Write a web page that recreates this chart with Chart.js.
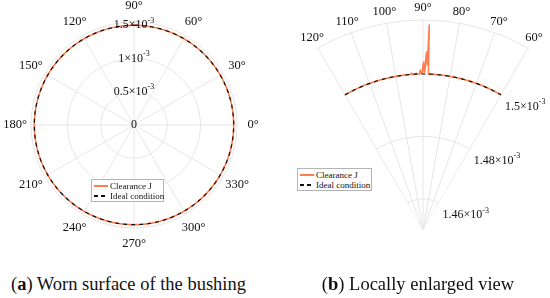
<!DOCTYPE html>
<html><head><meta charset="utf-8">
<script src="https://cdn.jsdelivr.net/npm/chart.js@4.4.0/dist/chart.umd.min.js"></script>
<style>
html,body{margin:0;padding:0;width:550px;height:298px;overflow:hidden;background:#fff;font-family:'Liberation Serif','DejaVu Serif','Noto Serif',serif;color:#111;}
#left{position:absolute;left:0;top:0;}
#rightWrap{position:absolute;left:275px;top:0;width:275px;height:298px;overflow:hidden;}
#right{position:absolute;left:-72px;top:0;}
.legend{position:absolute;background:#fff;border:1px solid #b4b4b4;font-size:9px;line-height:10px;box-sizing:border-box;padding:1px 2px;}
.legend .row{display:flex;align-items:center;height:10px;white-space:nowrap;}
.legend .sw{width:14px;height:1.5px;margin-right:2px;flex:none;}
.caption{position:absolute;top:275px;font-size:18.5px;line-height:18px;white-space:nowrap;text-align:center;color:#111;}
</style></head>
<body>
<canvas id="left" width="275" height="260"></canvas>
<div id="rightWrap"><canvas id="right" width="440" height="460"></canvas></div>
<div class="legend" id="legL" style="left:91px;top:179px;width:73px;height:23px;"></div>
<div class="legend" id="legR" style="left:297px;top:168px;width:75px;height:23px;"></div>
<div class="caption" style="left:0;width:257px;">(<b>a</b>) Worn surface of the bushing</div>
<div class="caption" style="left:318px;width:200px;">(<b>b</b>) Locally enlarged view</div>
<script>
// ---------------- data ----------------
const ANGLE_STEP = 0.25;                 // degrees between samples
const IDEAL_RADIUS = 1.5e-3;             // ideal clearance circle
const seriesNames = ['Clearance J', 'Ideal condition'];
// clearance J deviations (angle in degrees, value) read from the enlarged view
const spikeAngles = [94.25, 93.5, 92.5, 91.25, 91.0, 90.75, 90.5, 90.25, 90.0, 89.75, 89.5, 89.25, 89.0, 88.75, 88.5, 88.25];
const spikeValues = [1.5004e-3, 1.5002e-3, 1.5003e-3, 1.5001e-3, 1.5013e-3, 1.5003e-3, 1.5003e-3, 1.5004e-3, 1.5030e-3, 1.5038e-3, 1.5006e-3, 1.5012e-3, 1.5060e-3, 1.5071e-3, 1.5030e-3, 1.5157e-3];
// full view
const fullAngleTicks = [0, 30, 60, 90, 120, 150, 180, 210, 240, 270, 300, 330];
const fullRadialTicks = [0, 0.5e-3, 1e-3, 1.5e-3];
const fullRadialLabels = [['0', ''], ['0.5\u00d710', '-3'], ['1\u00d710', '-3'], ['1.5\u00d710', '-3']];
const fullRange = [0, 1.55e-3];
// enlarged view
const zoomSector = [60, 120];
const zoomAngleTicks = [60, 70, 80, 90, 100, 110, 120];
const zoomRadialTicks = [1.46e-3, 1.48e-3, 1.5e-3];
const zoomRadialLabels = [['1.46\u00d710', '-3'], ['1.48\u00d710', '-3'], ['1.5\u00d710', '-3']];
const zoomRange = [1.45e-3, 1.5173e-3];

// ---------------- styles ----------------
const FONT = "'Liberation Serif','DejaVu Serif','Noto Serif',serif";
const ORANGE = 'rgb(255,125,80)';
const GRID = '#e6e6e6';
const TEXT = '#111';

// ---------------- build ----------------
const N = Math.round(360 / ANGLE_STEP);
const angleAt = i => (((90 - i * ANGLE_STEP) % 360) + 360) % 360;
const indexOfAngle = a => ((Math.round((90 - a) / ANGLE_STEP) % N) + N) % N;
const labels = Array.from({length: N}, (_, i) => angleAt(i));
const same = (a, b) => Math.abs(a - b) < 1e-9;
function clearanceAt(a) {
  const k = spikeAngles.findIndex(s => same(s, a));
  return k >= 0 ? spikeValues[k] : IDEAL_RADIUS;
}
const inSector = a => a >= zoomSector[0] - 1e-9 && a <= zoomSector[1] + 1e-9;
const fullClear = labels.map(clearanceAt);
const fullIdeal = labels.map(() => IDEAL_RADIUS);
const zoomClear = labels.map(a => inSector(a) ? clearanceAt(a) : null);
const zoomIdeal = labels.map(a => inSector(a) ? IDEAL_RADIUS : null);

// legends
for (const id of ['legL', 'legR']) {
  document.getElementById(id).innerHTML =
    `<div class="row"><span class="sw" style="background:${ORANGE}"></span>${seriesNames[0]}</div>` +
    `<div class="row"><span class="sw" style="background:repeating-linear-gradient(90deg,#111 0 4px,transparent 4px 7px)"></span>${seriesNames[1]}</div>`;
}

function drawSci(ctx, parts, x, y, align, mainSize, supSize) {
  const main = `${mainSize}px ${FONT}`, sup = `${supSize}px ${FONT}`;
  ctx.font = main;
  const w1 = ctx.measureText(parts[0]).width;
  ctx.font = sup;
  const w2 = parts[1] ? ctx.measureText(parts[1]).width : 0;
  const x0 = align === 'center' ? x - (w1 + w2) / 2 : x;
  ctx.fillStyle = TEXT;
  ctx.textAlign = 'left';
  ctx.textBaseline = 'middle';
  ctx.font = main;
  ctx.fillText(parts[0], x0, y);
  if (parts[1]) { ctx.font = sup; ctx.fillText(parts[1], x0 + w1, y - mainSize * 0.38); }
}

function datasets(clear, ideal) {
  return [
    {label: seriesNames[0], data: clear, borderColor: ORANGE, borderWidth: 1.6, pointRadius: 0, fill: false, order: 2, tension: 0},
    {label: seriesNames[1], data: ideal, borderColor: '#111', borderWidth: 1.2, borderDash: [4, 4], pointRadius: 0, fill: false, order: 1, tension: 0}
  ];
}

function scaleOpts(range, ticks, angleTicks) {
  const angleSet = new Set(angleTicks.map(indexOfAngle));
  return {
    r: {
      min: range[0], max: range[1],
      afterBuildTicks: s => { s.ticks = [range[0], ...ticks.filter(v => v > range[0]), range[1]].map(v => ({value: v})); },
      ticks: {display: false},
      pointLabels: {display: false},
      grid: {circular: true, color: GRID, lineWidth: 1},
      angleLines: {display: true, color: GRID, lineWidth: c => angleSet.has(c.index) ? 1 : 0}
    }
  };
}

const common = {
  responsive: false, maintainAspectRatio: false, animation: false, devicePixelRatio: 1,
  plugins: {legend: {display: false}, tooltip: {enabled: false}},
  elements: {line: {borderJoinStyle: 'round'}}
};

// ---------- left: full view ----------
new Chart(document.getElementById('left'), {
  type: 'radar',
  data: {labels, datasets: datasets(fullClear, fullIdeal)},
  options: Object.assign({}, common, {
    layout: {padding: {left: 31, right: 38, top: 22, bottom: 32}},
    scales: scaleOpts(fullRange, fullRadialTicks, fullAngleTicks)
  }),
  plugins: [{
    id: 'fullText',
    afterDraw(chart) {
      const s = chart.scales.r, ctx = chart.ctx;
      ctx.save();
      ctx.fillStyle = TEXT; ctx.font = `12.5px ${FONT}`; ctx.textAlign = 'center'; ctx.textBaseline = 'middle';
      for (const a of fullAngleTicks) {
        const p = s.getPointPosition(indexOfAngle(a), s.drawingArea + 16);
        ctx.fillText(a + '\u00b0', p.x, p.y);
      }
      fullRadialTicks.forEach((v, k) => {
        const d = s.getDistanceFromCenterForValue(v);
        const p = s.getPointPosition(indexOfAngle(90), d);
        drawSci(ctx, fullRadialLabels[k], p.x, p.y, 'center', 12, 8);
      });
      ctx.restore();
    }
  }]
});

// ---------- right: enlarged view ----------
new Chart(document.getElementById('right'), {
  type: 'radar',
  data: {labels, datasets: datasets(zoomClear, zoomIdeal)},
  options: Object.assign({}, common, {
    layout: {padding: {left: 10, right: 10, top: 20, bottom: 20}},
    scales: scaleOpts(zoomRange, zoomRadialTicks, zoomAngleTicks)
  }),
  plugins: [{
    id: 'sectorClip',
    beforeDraw(chart) {
      const s = chart.scales.r, ctx = chart.ctx;
      ctx.save();
      ctx.beginPath();
      ctx.moveTo(s.xCenter, s.yCenter);
      const a0 = -(zoomSector[1] + 0.3) * Math.PI / 180, a1 = -(zoomSector[0] - 0.3) * Math.PI / 180;
      ctx.arc(s.xCenter, s.yCenter, s.drawingArea + 1, a0, a1);
      ctx.closePath();
      ctx.clip();
    },
    afterDatasetsDraw(chart) { chart.ctx.restore(); },
    afterDraw(chart) {
      const s = chart.scales.r, ctx = chart.ctx;
      ctx.save();
      ctx.fillStyle = TEXT; ctx.font = `12.5px ${FONT}`; ctx.textAlign = 'center'; ctx.textBaseline = 'middle';
      for (const a of zoomAngleTicks) {
        const p = s.getPointPosition(indexOfAngle(a), s.drawingArea + 12);
        ctx.fillText(a + '\u00b0', p.x, p.y);
      }
      zoomRadialTicks.forEach((v, k) => {
        const d = s.getDistanceFromCenterForValue(v);
        const p = s.getPointPosition(indexOfAngle(zoomSector[0]), d);
        drawSci(ctx, zoomRadialLabels[k], p.x + 4, p.y + 12, 'left', 12, 8);
      });
      ctx.restore();
    }
  }]
});
</script>
</body></html>
